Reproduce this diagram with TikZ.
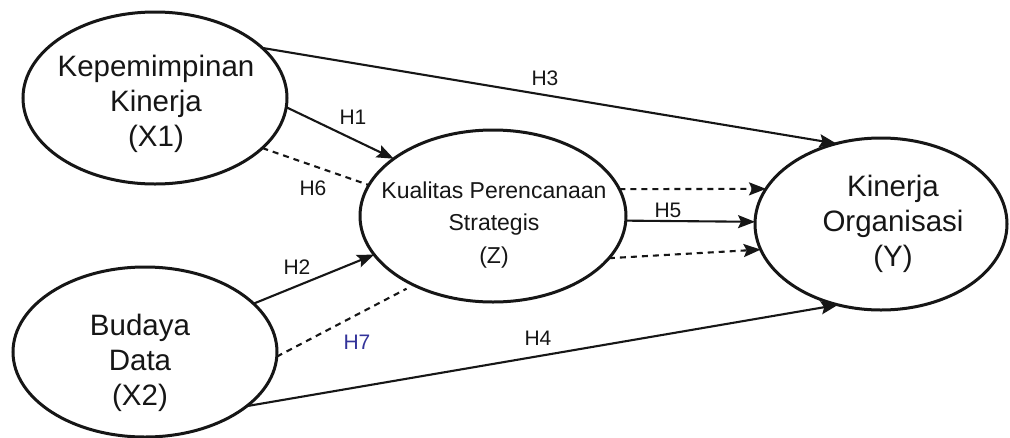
\documentclass[tikz,border=0pt]{standalone}
\usepackage{fontspec}
\setmainfont{Liberation Sans}
\usetikzlibrary{arrows.meta,shapes.geometric}
\definecolor{ink}{HTML}{161616}
\definecolor{hblue}{HTML}{33339A}
\begin{document}
\begin{tikzpicture}[x=1pt,y=-1pt,
  latent/.style={draw=ink, line width=3pt, ellipse, inner sep=0pt, outer sep=0pt},
  bigtext/.style={align=center, text=ink, inner sep=0pt, font=\fontsize{29.5}{35}\selectfont},
  midtext/.style={align=center, text=ink, inner sep=0pt, font=\fontsize{23}{32.5}\selectfont},
  hlab/.style={text=ink, inner sep=0pt, font=\fontsize{21}{24}\selectfont},
  conn/.style={draw=ink, line width=2.1pt, -{Stealth[length=17pt,width=13pt,inset=3pt]}},
  dashconn/.style={conn, dash pattern=on 6pt off 5pt},
  dashline/.style={draw=ink, line width=2.1pt, dash pattern=on 6pt off 5pt}
]
\useasboundingbox (0,0) rectangle (1010,437);
\fill[white] (0,0) rectangle (1010,437);

\node[latent, minimum width=264pt, minimum height=172pt] (x1) at (155,98) {};
\node[latent, minimum width=264pt, minimum height=170pt] (x2) at (145,352) {};
\node[latent, minimum width=266pt, minimum height=172pt] (z) at (493,216) {};
\node[latent, minimum width=252pt, minimum height=172pt] (y) at (881,224) {};

\node[bigtext] (tx1) at (156,104) {Kepemimpinan\\Kinerja\\(X1)};
\node[bigtext] (tx2) at (140,363) {Budaya\\Data\\(X2)};
\node[midtext] (tz) at (494,225) {Kualitas Perencanaan\\Strategis\\(Z)};
\node[bigtext] (ty) at (893,224) {Kinerja\\Organisasi\\(Y)};

\draw[conn] (x1.25) -- (y.119);
\draw[conn] (x1.-4) -- (z.150);
\draw[dashline] (x1.-25.5) -- (z.166);
\draw[conn] (x2.24) -- (z.198);
\draw[dashline, shorten >=8pt] (x2.-2) -- (z.221);
\draw[conn] (x2.-28.5) -- (y.242);
\draw[conn] (z.-2.6) -- (y.179);
\draw[dashconn] (z.12) -- (y.163);
\draw[dashconn] (z.-20.7) -- (y.192);

\node[hlab] (h1) at (353,117) {H1};
\node[hlab] (h2) at (297,267) {H2};
\node[hlab] (h3) at (545,78) {H3};
\node[hlab] (h4) at (538,338) {H4};
\node[hlab] (h5) at (668,210) {H5};
\node[hlab] (h6) at (313,188) {H6};
\node[hlab, text=hblue] (h7) at (357,342) {H7};
\end{tikzpicture}
\end{document}
